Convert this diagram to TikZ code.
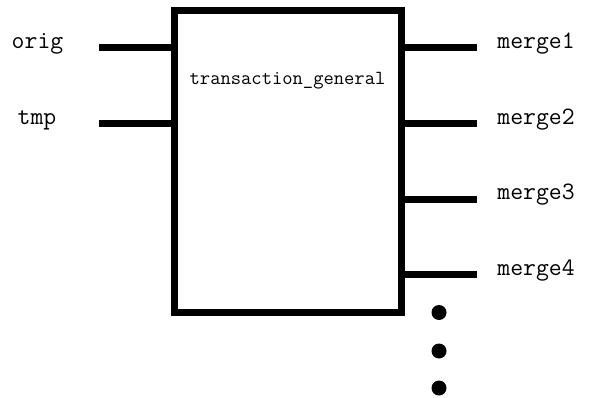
\documentclass[tikz,border=0pt]{standalone}
\usepackage{fontspec}
\begin{document}
\begin{tikzpicture}[x=1pt,y=-1pt,
  blk/.style={draw=black,line width=7pt,minimum width=227pt,minimum height=301.5pt,outer sep=0pt,inner sep=0pt},
  port/.style={line width=7pt,line cap=butt},
  lbl/.style={font=\ttfamily\fontsize{25}{25}\selectfont,anchor=base,inner sep=0pt},
  inlbl/.style={font=\ttfamily\fontsize{20}{20}\selectfont,anchor=base,inner sep=0pt},
  dotc/.style={circle,fill=black,minimum size=15pt,inner sep=0pt}]
\useasboundingbox (0,0) rectangle (591,398);
\fill[white] (0,0) rectangle (591,398);
\node[blk] (box) at (288,161.25) {};
\node[inlbl] (title) at (287.5,85) {transaction\_general};
% left ports
\coordinate (o) at (99,48);
\coordinate (t) at (99,124);
\draw[port] (o) -- (box.west |- o);
\draw[port] (t) -- (box.west |- t);
\node[lbl] (lo) at (37.5,48.5) {orig};
\node[lbl] (lt) at (37,125) {tmp};
% right ports
\coordinate (m1) at (477,48);
\coordinate (m2) at (477,124);
\coordinate (m3) at (477,199);
\coordinate (m4) at (477,274.5);
\draw[port] (box.east |- m1) -- (m1);
\draw[port] (box.east |- m2) -- (m2);
\draw[port] (box.east |- m3) -- (m3);
\draw[port] (box.east |- m4) -- (m4);
\node[lbl] (l1) at (536,48.5) {merge1};
\node[lbl] (l2) at (536,125) {merge2};
\node[lbl] (l3) at (536,199.5) {merge3};
\node[lbl] (l4) at (536,275) {merge4};
% dots
\node[dotc] (d1) at (439,312.5) {};
\node[dotc] (d2) at (439,351) {};
\node[dotc] (d3) at (439,388) {};
\end{tikzpicture}
\end{document}
